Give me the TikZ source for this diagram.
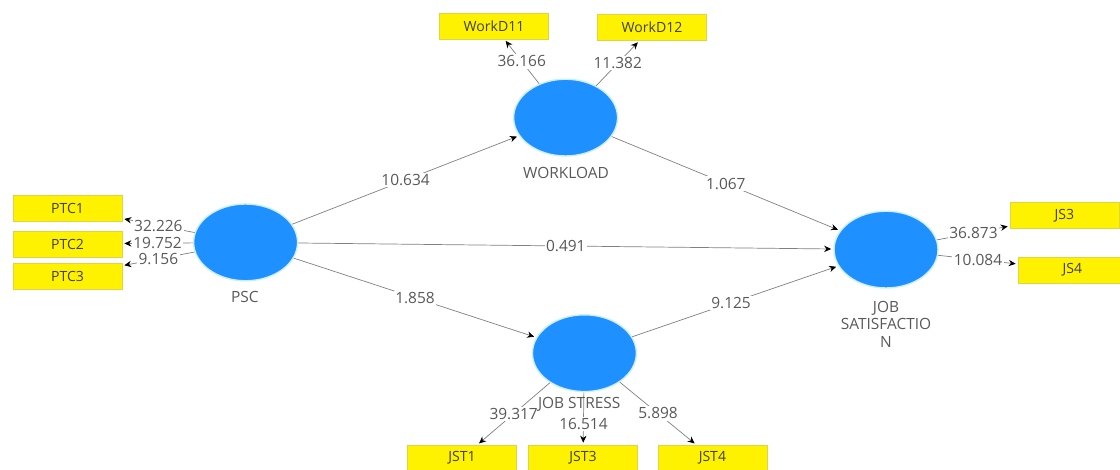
\documentclass[tikz,border=0pt]{standalone}
\usepackage{fontspec}
\setmainfont{Open Sans}
\usetikzlibrary{arrows.meta, shapes.geometric}
\definecolor{lvblue}{RGB}{30,144,255}
\tikzset{>={Stealth[length=5pt,width=4.5pt,black]}}
\tikzset{
  latent/.style={ellipse, fill=lvblue, draw=cyan!20, line width=1pt, minimum width=2.6cm, minimum height=1.92cm, inner sep=0pt},
  indicator/.style={rectangle, fill=yellow, draw=yellow!70!gray, line width=0.3pt, minimum width=2.72cm, minimum height=0.65cm, inner sep=0pt, text=black!75, font=\fontsize{10}{12}\selectfont},
  coef/.style={fill=white, inner sep=1pt, text=black!65, font=\fontsize{11}{13}\selectfont},
  lvname/.style={text=black!65, align=center, font=\fontsize{11}{12.5}\selectfont},
  link/.style={draw=black!50, line width=0.5pt, ->, shorten >=1.5pt}
}

\begin{document}
\begin{tikzpicture}
\useasboundingbox (0,0) rectangle (28,11.75);
\node[latent] (psc) at (6.14,5.69) {};
\node[latent] (wl) at (14.14,8.81) {};
\node[latent] (js) at (22.15,5.51) {};
\node[latent] (jst) at (14.61,2.92) {};

\node[indicator] (ptc1) at (1.69,6.55) {PTC1};
\node[indicator] (ptc2) at (1.69,5.65) {PTC2};
\node[indicator] (ptc3) at (1.69,4.85) {PTC3};
\node[indicator] (wd11) at (12.35,11.1) {WorkD11};
\node[indicator] (wd12) at (16.3,11.06) {WorkD12};
\node[indicator] (js3) at (26.61,6.36) {JS3};
\node[indicator] (js4) at (26.81,5.0) {JS4};
\node[indicator] (jst1) at (11.55,0.3) {JST1};
\node[indicator] (jst3) at (14.575,0.3) {JST3};
\node[indicator] (jst4) at (17.81,0.3) {JST4};

\draw[link] (psc) -- node[coef] {10.634} (wl);
\draw[link] (wl) -- node[coef] {1.067} (js);
\draw[link] (psc) -- node[coef] {0.491} (js);
\draw[link] (psc) -- node[coef] {1.858} (jst);
\draw[link] (jst) -- node[coef, pos=0.48] {9.125} (js);

\draw[link] (psc) -- node[coef] {32.226} (ptc1);
\draw[link] (psc) -- node[coef] {19.752} (ptc2);
\draw[link] (psc) -- node[coef] {9.156} (ptc3);
\draw[link] (wl) -- node[coef] {36.166} (wd11);
\draw[link] (wl) -- node[coef] {11.382} (wd12);
\draw[link] (js) -- node[coef] {36.873} (js3);
\draw[link] (js) -- node[coef] {10.084} (js4);
\draw[link] (jst) -- node[coef] {39.317} (jst1);
\draw[link] (jst) -- node[coef, pos=0.6] {16.514} (jst3);
\draw[link] (jst) -- node[coef] {5.898} (jst4);

\node[lvname] (pscname) at (6.12,4.33) {PSC};
\node[lvname] (wlname) at (14.15,7.43) {WORKLOAD};
\node[lvname] (jsname) at (22.15,3.65) {JOB\\SATISFACTIO\\N};
\node[lvname] (jstname) at (14.48,1.63) {JOB STRESS};
\end{tikzpicture}
\end{document}
